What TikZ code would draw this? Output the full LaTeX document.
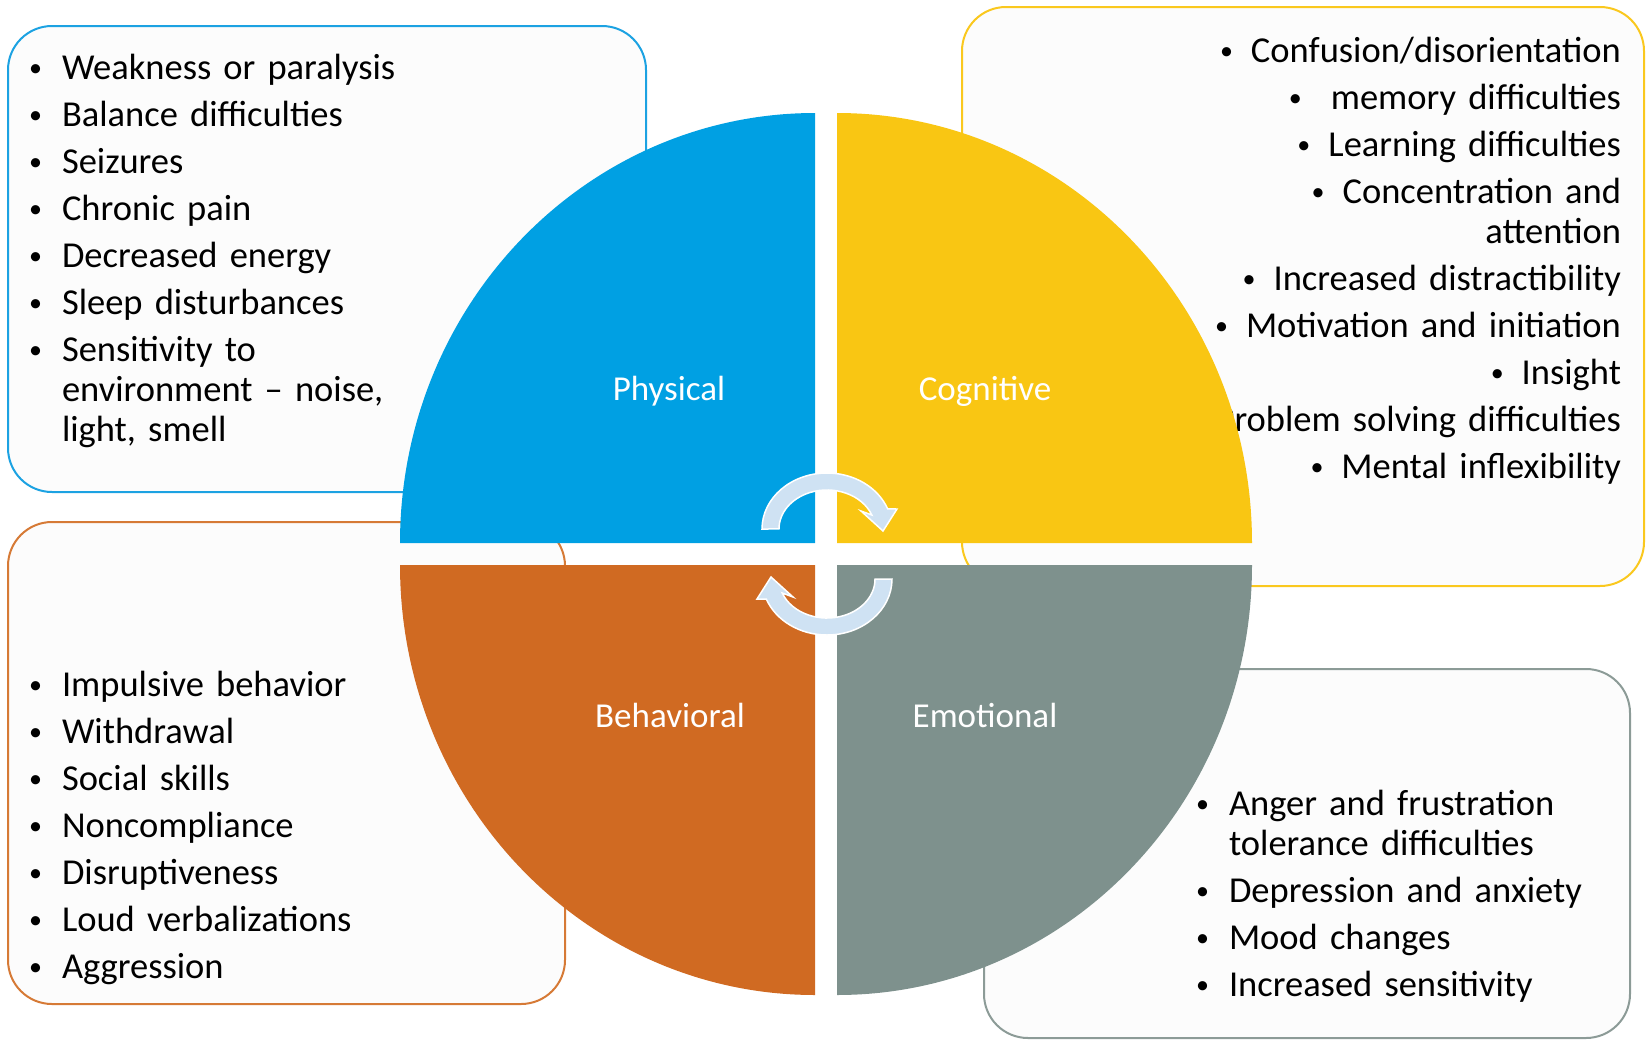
\documentclass[tikz,border=0pt]{standalone}
\usepackage{fontspec}
\setmainfont{Carlito}
\usepackage{tikz}
\usetikzlibrary{positioning}

\definecolor{physblue}{RGB}{0,160,227}
\definecolor{cogyellow}{RGB}{249,198,19}
\definecolor{behorange}{RGB}{208,106,34}
\definecolor{emogray}{RGB}{126,145,141}
\definecolor{physline}{RGB}{28,162,226}
\definecolor{cogline}{RGB}{250,200,30}
\definecolor{behline}{RGB}{214,122,54}
\definecolor{emoline}{RGB}{140,155,151}
\definecolor{boxfill}{RGB}{252,252,252}
\definecolor{cyclefill}{RGB}{207,226,243}

\newcommand{\bdot}{\raisebox{3pt}{\fontsize{26}{26}\selectfont\textbullet}}
\newcommand{\bul}{\makebox[33pt][l]{\bdot}}
\newcommand{\nobul}{\hspace*{33pt}}
\newcommand{\rbul}{\bdot\hspace{18pt}}

\begin{document}
\begin{tikzpicture}[x=1pt,y=-1pt,node distance=47pt,
	listbox/.style={draw=#1,line width=2pt,fill=boxfill,rounded corners=44pt},
	lefttxt/.style={text width=420pt,align=left,inner sep=0pt,text height=25pt,text depth=0pt,font=\fontsize{36.5}{42}\selectfont},
	righttxt/.style={lefttxt,text width=480pt,align=right},
	quadlbl/.style={text=white,inner sep=1pt,font=\fontsize{35}{40}\selectfont},
	cycarrow/.style={fill=cyclefill,draw=white,line width=1.5pt}]
	\useasboundingbox (0,0) rectangle (1647,1042);
	%
	\draw[listbox=physline] (8,26) rectangle (646,492);
	\draw[listbox=cogline] (962,7) rectangle (1644,586);
	\draw[listbox=behline] (8,522) rectangle (565,1004);
	\draw[listbox=emoline] (984,669) rectangle (1630,1038);
	%
	\fill (239,67) node[lefttxt] (w1) {\bul Weakness or paralysis};
	\fill (0,0) node[below of=w1,lefttxt] (w2) {\bul Balance difficulties};
	\fill (0,0) node[below of=w2,lefttxt] (w3) {\bul Seizures};
	\fill (0,0) node[below of=w3,lefttxt] (w4) {\bul Chronic pain};
	\fill (0,0) node[below of=w4,lefttxt] (w5) {\bul Decreased energy};
	\fill (0,0) node[below of=w5,lefttxt] (w6) {\bul Sleep disturbances};
	\fill (0,0) node[below of=w6,lefttxt] (w7) {\bul Sensitivity to};
	\fill (0,0) node[below of=w7,yshift=7pt,lefttxt] (w8) {\nobul environment -- noise,};
	\fill (0,0) node[below of=w8,yshift=7pt,lefttxt] (w9) {\nobul light, smell};
	%
	\fill (1381,50) node[righttxt] (c1) {\rbul Confusion/disorientation};
	\fill (0,0) node[below of=c1,righttxt] (c2) {\bdot\hspace{29pt}memory difficulties};
	\fill (0,0) node[below of=c2,righttxt] (c3) {\rbul Learning difficulties};
	\fill (0,0) node[below of=c3,righttxt] (c4) {\rbul Concentration and};
	\fill (0,0) node[below of=c4,yshift=7pt,righttxt] (c5) {attention};
	\fill (0,0) node[below of=c5,righttxt] (c6) {\rbul Increased distractibility};
	\fill (0,0) node[below of=c6,righttxt] (c7) {\rbul Motivation and initiation};
	\fill (0,0) node[below of=c7,righttxt] (c8) {\rbul Insight};
	\fill (0,0) node[below of=c8,righttxt] (c9) {\rbul Problem solving difficulties};
	\fill (0,0) node[below of=c9,righttxt] (c10) {\rbul Mental inflexibility};
	%
	\fill (239,684) node[lefttxt] (b1) {\bul Impulsive behavior};
	\fill (0,0) node[below of=b1,lefttxt] (b2) {\bul Withdrawal};
	\fill (0,0) node[below of=b2,lefttxt] (b3) {\bul Social skills};
	\fill (0,0) node[below of=b3,lefttxt] (b4) {\bul Noncompliance};
	\fill (0,0) node[below of=b4,lefttxt] (b5) {\bul Disruptiveness};
	\fill (0,0) node[below of=b5,lefttxt] (b6) {\bul Loud verbalizations};
	\fill (0,0) node[below of=b6,lefttxt] (b7) {\bul Aggression};
	%
	\fill (1406,803) node[lefttxt] (e1) {\bul Anger and frustration};
	\fill (0,0) node[below of=e1,yshift=7pt,lefttxt] (e2) {\nobul tolerance difficulties};
	\fill (0,0) node[below of=e2,lefttxt] (e3) {\bul Depression and anxiety};
	\fill (0,0) node[below of=e3,lefttxt] (e4) {\bul Mood changes};
	\fill (0,0) node[below of=e4,lefttxt] (e5) {\bul Increased sensitivity};
	%
	\fill[physblue] (815,543) -- (400,543) arc[start angle=180,end angle=270,x radius=415,y radius=430] -- cycle;
	\fill[cogyellow] (837,543) -- (837,113) arc[start angle=270,end angle=360,x radius=415,y radius=430] -- cycle;
	\fill[emogray] (837,565) -- (1252,565) arc[start angle=0,end angle=90,x radius=415,y radius=430] -- cycle;
	\fill[behorange] (815,565) -- (815,995) arc[start angle=90,end angle=180,x radius=415,y radius=430] -- cycle;
	%
	\fill (669,391) node[quadlbl] (phys) {Physical};
	\fill (985,391) node[quadlbl] (cogn) {Cognitive};
	\fill (670,715) node[quadlbl] (behav) {Behavioral};
	\fill (985,715) node[quadlbl] (emot) {Emotional};
	%
	\coordinate (cyc) at (827,554);
	\draw[cycarrow] (827,529) ++(180:65 and 56) arc[start angle=180,end angle=339,x radius=65,y radius=56]
		-- (897,509) -- (883,531) -- (861,511) -- (871.8,515)
		arc[start angle=339,end angle=180,x radius=48,y radius=39] -- cycle;
	\draw[cycarrow,rotate around={180:(cyc)}] (827,529) ++(180:65 and 56) arc[start angle=180,end angle=339,x radius=65,y radius=56]
		-- (897,509) -- (883,531) -- (861,511) -- (871.8,515)
		arc[start angle=339,end angle=180,x radius=48,y radius=39] -- cycle;
\end{tikzpicture}
\end{document}
